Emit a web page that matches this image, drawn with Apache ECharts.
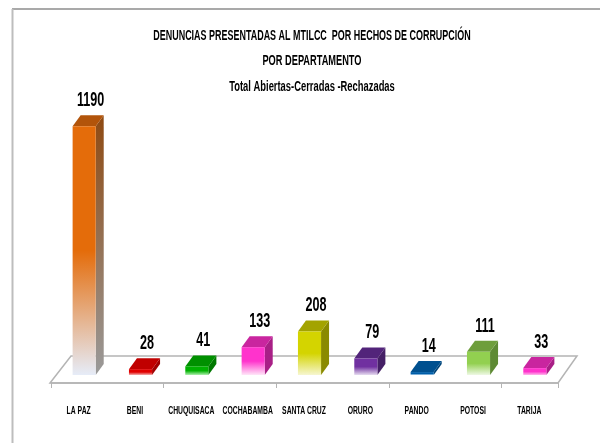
<!DOCTYPE html>
<html>
<head>
<meta charset="utf-8">
<style>
  html, body { margin: 0; padding: 0; background: #fff; }
  #chart { width: 600px; height: 443px; }
</style>
<script src="https://cdn.jsdelivr.net/npm/echarts@6/dist/echarts.min.js"></script>
</head>
<body>
<div id="chart"></div>
<script>
const categories = ["LA PAZ", "BENI", "CHUQUISACA", "COCHABAMBA", "SANTA CRUZ", "ORURO", "PANDO", "POTOSI", "TARIJA"];
const denuncias = [1190, 28, 41, 133, 208, 79, 14, 111, 33];
const titleLines = [
  "DENUNCIAS PRESENTADAS AL MTILCC  POR HECHOS DE CORRUPCIÓN",
  "POR DEPARTAMENTO",
  "Total Abiertas-Cerradas -Rechazadas"
];
// front, top, side, fade end of each bar
const barColors = [
  ["#E46C0A", "#B2540A", "#8F4A12", "#E6ECF8"],
  ["#E00000", "#C00000", "#A00000", "#F4B0B0"],
  ["#00B000", "#009000", "#007800", "#B0F0B0"],
  ["#FF33CC", "#C9259F", "#A81F86", "#FFE6F8"],
  ["#D4D400", "#A3A300", "#8A8A00", "#F6F6D0"],
  ["#7030A0", "#52247A", "#452066", "#E6DCF0"],
  ["#005EA8", "#00508F", "#004478", "#BBD8F0"],
  ["#92D050", "#6E9E3C", "#5E8A34", "#EEF8E4"],
  ["#FF33CC", "#C9259F", "#A81F86", "#FFB8EC"]
];

const FONT = '"Liberation Sans", sans-serif';
const DX = 8;    // depth of a bar
const DY = -11;
const FLOOR_FRONT = 8;   // floor front edge below the bar base
const FLOOR_BACK = -19;  // floor back edge above the bar base

const chart = echarts.init(document.getElementById("chart"));

// no narrow font installed, so text gets squeezed sideways
function narrowText(text, x, y, size, scale) {
  return {
    type: "text",
    x: x,
    y: y,
    scaleX: scale,
    style: {
      text: text,
      x: 0,
      y: 0,
      align: "center",
      verticalAlign: "middle",
      fill: "#000",
      font: "bold " + size + "px " + FONT
    }
  };
}

function renderFloor(params, api) {
  const x0 = params.coordSys.x;
  const x1 = x0 + params.coordSys.width;
  const y = params.coordSys.y + params.coordSys.height;
  return {
    type: "polygon",
    shape: { points: [[x0 - 1, y + FLOOR_FRONT], [x1, y + FLOOR_FRONT], [x1 + 19, y + FLOOR_BACK], [x0 + 20, y + FLOOR_BACK]] },
    style: { stroke: "#B4B4B4", fill: "#fff", lineWidth: 1.5 },
    silent: true
  };
}

function renderBar(params, api) {
  const i = api.value(0);
  const value = api.value(1);
  const base = api.coord([i, 0]);
  const top = api.coord([i, value]);
  const w = api.size([1, 0])[0] * 0.41;
  const x = base[0] - w / 2 + 5;
  const yTop = top[1];
  const yBase = base[1];
  const c = barColors[i];
  const frontFill = new echarts.graphic.LinearGradient(0, 0, 0, 1, [
    { offset: 0, color: c[0] },
    { offset: 0.5, color: c[0] },
    { offset: 1, color: c[3] }
  ]);
  const sideFill = new echarts.graphic.LinearGradient(0, 0, 0, 1, [
    { offset: 0, color: c[2] },
    { offset: 1, color: i === 0 ? "#9A9A9A" : c[2] }
  ]);
  return {
    type: "group",
    children: [
      {
        type: "polygon",
        shape: { points: [[x + w, yTop], [x + w + DX, yTop + DY], [x + w + DX, yBase + DY], [x + w, yBase]] },
        style: { fill: sideFill }
      },
      {
        type: "polygon",
        shape: { points: [[x, yTop], [x + DX, yTop + DY], [x + w + DX, yTop + DY], [x + w, yTop]] },
        style: { fill: c[1] }
      },
      {
        type: "rect",
        shape: { x: x, y: yTop, width: w, height: yBase - yTop },
        style: { fill: frontFill }
      },
      narrowText(String(value), x + w / 2 + 6.5, yTop + DY - 15, 21, 0.6),
      narrowText(categories[i], base[0] - 0.5, yBase + 36, 11, 0.62)
    ]
  };
}

const titleY = [36, 61, 87];
const titleScale = [0.64, 0.66, 0.67];

chart.setOption({
  backgroundColor: "#fff",
  animation: false,
  graphic: [
    {
      type: "line",
      silent: true,
      shape: { x1: 12, y1: 9, x2: 600, y2: 9 },
      style: { stroke: "#8C8C8C", lineWidth: 1.5 }
    },
    {
      type: "line",
      silent: true,
      shape: { x1: 12.5, y1: 9, x2: 12.5, y2: 443 },
      style: { stroke: "#BDBDBD", lineWidth: 2 }
    }
  ].concat(titleLines.map((t, i) => narrowText(t, 312, titleY[i], 14, titleScale[i]))),
  grid: { left: 51, right: 42, top: 60, bottom: 68 },
  xAxis: {
    type: "category",
    data: categories,
    offset: 8,
    z: 5,
    axisLine: { onZero: false, lineStyle: { color: "#B4B4B4", width: 1.5 } },
    axisTick: { show: true, length: 5, lineStyle: { color: "#B4B4B4" } },
    axisLabel: { show: false }
  },
  yAxis: { type: "value", min: 0, max: 1507, show: false },
  series: [
    { type: "custom", data: [[0, 0]], renderItem: renderFloor, z: 1, silent: true },
    {
      type: "custom",
      data: denuncias.map((v, i) => [i, v]),
      encode: { x: 0, y: 1 },
      renderItem: renderBar,
      clip: false,
      z: 2
    }
  ]
});
</script>
</body>
</html>
